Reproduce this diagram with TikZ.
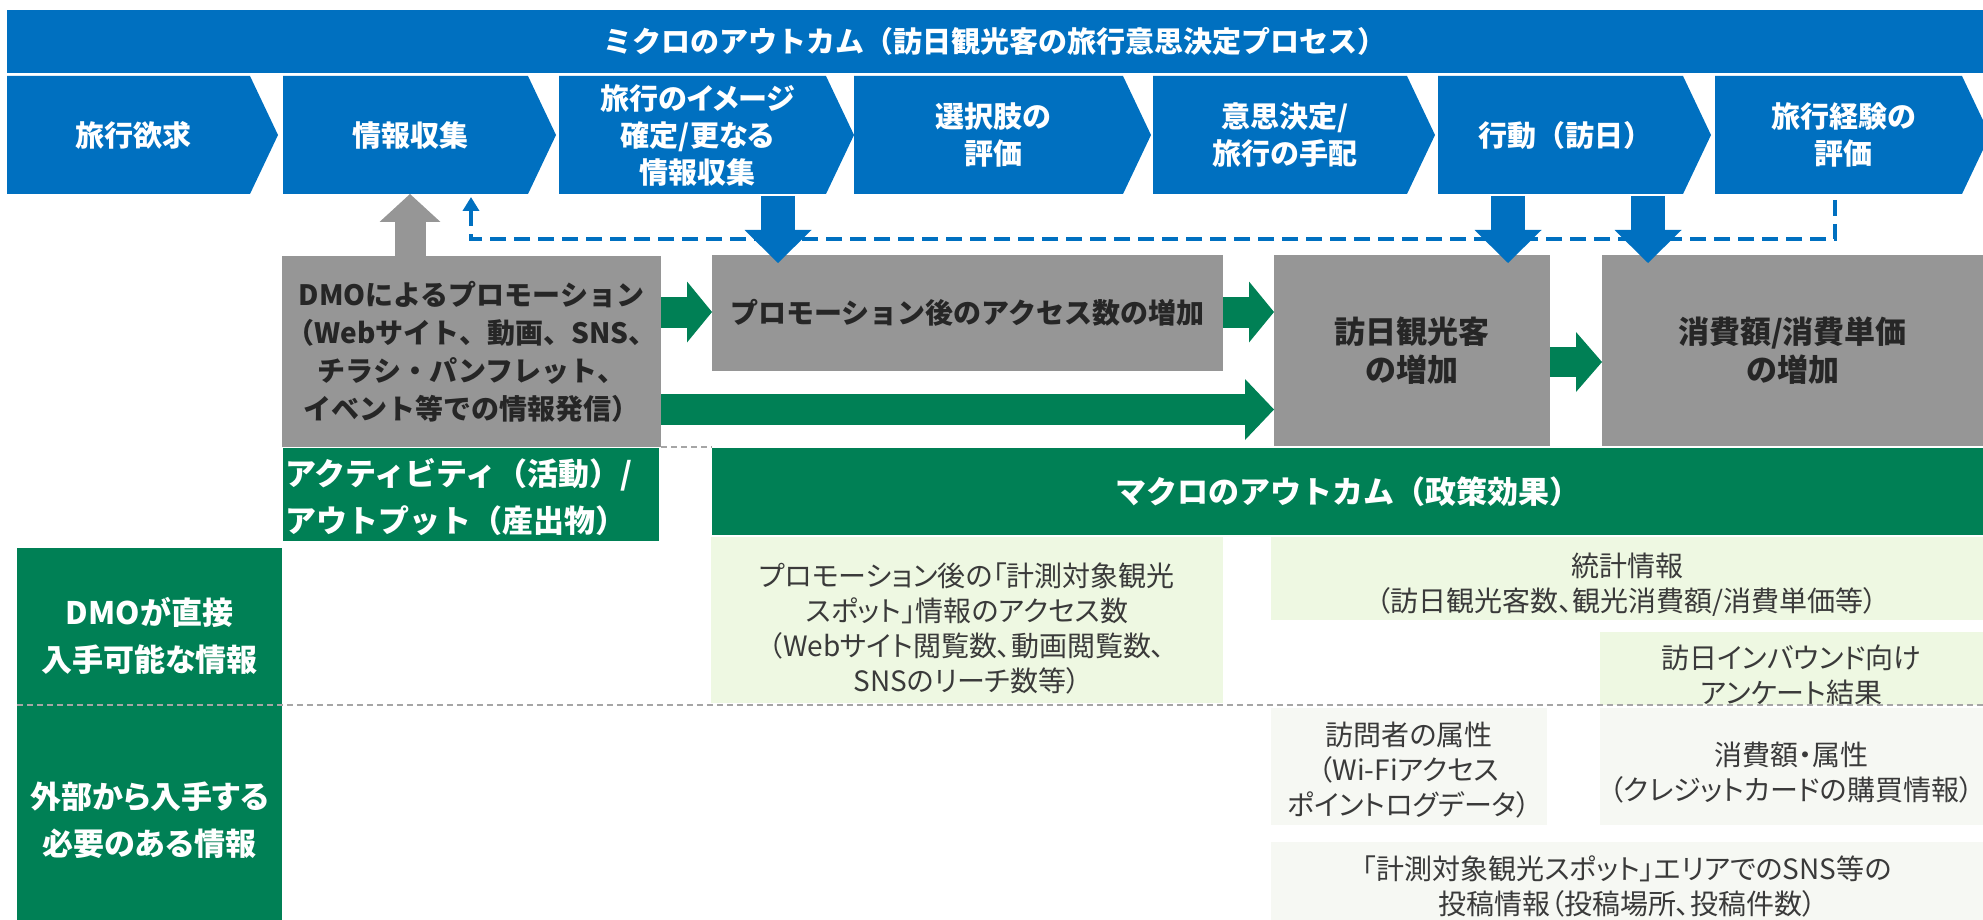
\documentclass[tikz,border=0pt]{standalone}
\usepackage{fontspec}
\setmainfont{Noto Sans CJK JP}[RawFeature=+palt]
\newfontfamily\jpw{Noto Sans CJK JP}
\usetikzlibrary{calc,arrows.meta}
\definecolor{mblue}{HTML}{0070C0}
\definecolor{mgreen}{HTML}{008055}
\definecolor{mgray}{HTML}{969696}
\definecolor{dtext}{HTML}{262626}
\definecolor{ltext}{HTML}{3A3A3A}
\definecolor{lgreen}{HTML}{EEF8E2}
\definecolor{lgray}{HTML}{F6F8F3}
\definecolor{sepgray}{HTML}{A6A6A6}
\newcommand\chev[4]{%
  \fill[mblue] (#2,76) -- (#3,76) -- (#3+28,135) -- (#3,194) -- (#2,194) -- cycle;
  \node[chevt, minimum width={(#3-#2)*0.5pt}, minimum height=59pt] (#1) at ({(#2+#3)/2+5},135) {#4};}
\newcommand\harrow[6]{%
  \draw[#1, line width=#4*0.5pt] (#2) -- ([xshift=-(#6-1)*0.5pt]#3);
  \fill[#1, shift={(#3)}] (0,0) -- (-#6,-#5) -- (-#6,#5) -- cycle;}
\newcommand\varrow[7]{%
  \draw[#1, line width=#4*0.5pt] (#2) -- ([yshift=(#7)*(#6-1)*0.5pt]#3);
  \fill[#1, shift={(#3)}] (0,0) -- (-#5,{-(#7)*#6}) -- (#5,{-(#7)*#6}) -- cycle;}
\begin{document}
\begin{tikzpicture}[x=0.5pt,y=-0.5pt,
  rbox/.style={rectangle, inner sep=0pt, outer sep=0pt},
  chevt/.style={rbox, text=white, font=\bfseries\fontsize{14.5pt}{18.5pt}\selectfont, align=center},
  titlet/.style={rbox, text=white, font=\jpw\bfseries\fontsize{14.5pt}{18.5pt}\selectfont},
  grayt/.style={rbox, text=dtext, font=\jpw\bfseries\fontsize{15.5pt}{19pt}\selectfont, align=center},
  dmot/.style={rbox, text=dtext, font=\jpw\bfseries\fontsize{14pt}{19pt}\selectfont, align=center},
  greent/.style={rbox, text=white, font=\jpw\bfseries\fontsize{15.5pt}{23.5pt}\selectfont, align=center},
  labt/.style={rbox, text=white, font=\bfseries\fontsize{15.5pt}{23.5pt}\selectfont, align=center},
  lightt/.style={rbox, text=ltext, font=\fontsize{14pt}{17.5pt}\selectfont, align=center},
  fb/.style={mblue, line width=2pt, dash pattern=on 8pt off 4pt},
  sep/.style={sepgray, line width=0.8pt, dash pattern=on 3pt off 2pt}]
\useasboundingbox (0,0) rectangle (1983,920);
\clip (0,0) rectangle (1983,920);

% title banner
\node[titlet, fill=mblue, minimum width=988pt, minimum height=31.5pt] (banner) at (995,41.5)
  {ミクロのアウトカム（訪日観光客の旅行意思決定プロセス）};

% chevrons
\chev{c1}{7}{250}{旅行欲求}
\chev{c2}{283}{528}{情報収集}
\chev{c3}{559}{826}{旅行のイメージ\\確定/更なる\\情報収集}
\chev{c4}{854}{1123}{選択肢の\\評価}
\chev{c5}{1153}{1407}{意思決定/\\旅行の手配}
\chev{c6}{1438}{1683}{\jpw 行動（訪日）}
\chev{c7}{1715}{1962}{旅行経験の\\評価}

% gray boxes
\node[dmot, fill=mgray, minimum width=189.5pt, minimum height=95.5pt] (dmo) at (471.5,351.5)
  {DMOによるプロモーション\\（Webサイト、動画、SNS、\\チラシ・パンフレット、\\イベント等での情報発信）};
\node[grayt, fill=mgray, font=\jpw\bfseries\fontsize{14pt}{19pt}\selectfont, minimum width=255.5pt, minimum height=58pt] (promo) at (967.5,313)
  {プロモーション後のアクセス数の増加};
\node[grayt, fill=mgray, minimum width=138pt, minimum height=95.5pt] (visit) at (1412,350.5)
  {訪日観光客\\の増加};
\node[grayt, fill=mgray, minimum width=190.5pt, minimum height=95.5pt] (spend) at (1792.5,350.5)
  {消費額/消費単価\\の増加};

% green boxes
\node[rbox, fill=mgreen, minimum width=188pt, minimum height=46.5pt] (act) at (471,494.5) {};
\node[greent, align=left, anchor=west] (actT) at (285,497)
  {アクティビティ（活動）/\\アウトプット（産出物）};
\node[greent, fill=mgreen, minimum width=635.5pt, minimum height=43.5pt] (macro) at (1347.5,491.5)
  {マクロのアウトカム（政策効果）};
\node[rbox, fill=mgreen, minimum width=132.5pt, minimum height=186pt] (lab) at (149.5,734) {};
\node[labt] (labA) at (149.5,636) {DMOが直接\\入手可能な情報};
\node[labt] (labB) at (149.5,820) {外部から入手する\\必要のある情報};

% light boxes
\node[rbox, fill=lgreen, minimum width=256pt, minimum height=83pt] (acc) at (967,620) {};
\node[lightt] (accT) at (967,628.5)
  {プロモーション後の「計測対象観光\\スポット」情報のアクセス数\\（Webサイト閲覧数、動画閲覧数、\\SNSのリーチ数等）};
\node[rbox, fill=lgreen, minimum width=356pt, minimum height=41.5pt] (stat) at (1627,578.5) {};
\node[lightt] (statT) at (1627,585) {統計情報\\（訪日観光客数、観光消費額/消費単価等）};
\node[rbox, fill=lgreen, minimum width=191.5pt, minimum height=36.5pt] (survey) at (1791.5,668.5) {};
\node[lightt] (surveyT) at (1791.5,675) {訪日インバウンド向け\\アンケート結果};
\node[rbox, fill=lgray, minimum width=138pt, minimum height=58.5pt] (attr) at (1409,766.5) {};
\node[lightt] (attrT) at (1409,770) {訪問者の属性\\（Wi-Fiアクセス\\ポイントログデータ）};
\node[rbox, fill=lgray, minimum width=191.5pt, minimum height=58.5pt] (card) at (1791.5,766.5) {};
\node[lightt] (cardT) at (1791.5,773) {消費額・属性\\（クレジットカードの購買情報）};
\node[rbox, fill=lgray, minimum width=356pt, minimum height=39pt] (sns) at (1627,881) {};
\node[lightt] (snsT) at (1627,886) {「計測対象観光スポット」エリアでのSNS等の\\投稿情報（投稿場所、投稿件数）};

% feedback dashed line
\coordinate (fbA) at (c7.south -| 1835,0);
\coordinate (fbB) at (c2.south -| 471,0);
\draw[fb, -{Triangle[width=8pt,length=7pt]}] ([yshift=-3pt]fbA) -- ($(fbA |- 0,239)$) -| ([yshift=-1.5pt]fbB);

% gray up arrow
\coordinate (g1s) at (dmo.north -| 410,0);
\coordinate (g1e) at (c2.south -| 410,0);
\varrow{mgray}{g1s}{g1e}{31}{30.5}{28}{-1}

% blue down arrows
\coordinate (b1s) at (c3.south -| 778,0);
\coordinate (b1e) at ([yshift=-4pt]promo.north -| 778,0);
\varrow{mblue}{[yshift=-1pt]b1s}{b1e}{34}{33.5}{33}{1}
\coordinate (b2s) at (c6.south -| 1508,0);
\coordinate (b2e) at ([yshift=-4pt]visit.north -| 1508,0);
\varrow{mblue}{[yshift=-1pt]b2s}{b2e}{34}{33.5}{33}{1}
\coordinate (b3s) at (c6.south -| 1648,0);
\coordinate (b3e) at ([yshift=-4pt]spend.north -| 1648,0);
\varrow{mblue}{[yshift=-1pt]b3s}{b3e}{34}{33.5}{33}{1}

% green arrows
\coordinate (a1s) at (dmo.east |- 0,312);
\coordinate (a1e) at (promo.west |- 0,312);
\harrow{mgreen}{a1s}{a1e}{31}{30.5}{25}
\coordinate (a2s) at (promo.east |- 0,312);
\coordinate (a2e) at (visit.west |- 0,312);
\harrow{mgreen}{a2s}{a2e}{31}{30.5}{25}
\coordinate (a3s) at (dmo.east |- 0,409.5);
\coordinate (a3e) at (visit.west |- 0,409.5);
\harrow{mgreen}{a3s}{a3e}{31}{30.5}{29}
\coordinate (a4s) at (visit.east |- 0,362);
\coordinate (a4e) at (spend.west |- 0,362);
\harrow{mgreen}{a4s}{a4e}{30}{30}{26}

% separators
\draw[sep] (661,447) -- (712,447);
\draw[sep] (17,705) -- (1983,705);
\end{tikzpicture}
\end{document}
